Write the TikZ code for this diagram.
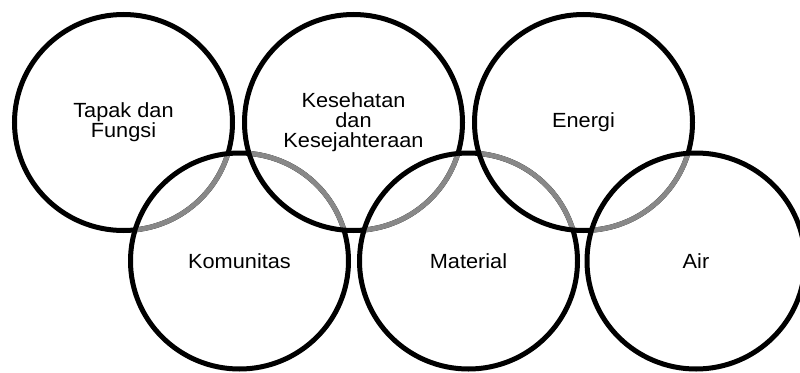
\documentclass[tikz,border=0pt]{standalone}
\usepackage{fontspec}
\setmainfont[FakeStretch=1.06]{Liberation Sans}
\definecolor{ringgray}{RGB}{136,136,136}
\begin{document}
\begin{tikzpicture}[x=1pt,y=-1pt,
  ring/.style={line width=5pt, draw=black},
  lensarc/.style={line width=5pt, draw=ringgray},
  ringtext/.style={align=center, font=\fontsize{20.5}{20}\selectfont, inner sep=0pt}]
\useasboundingbox (0,0) rectangle (800,372);

% labels, one at the centre of each ring
\node[ringtext] (tl)  at (123.5,122.5) {Tapak dan\\Fungsi};
\node[ringtext] (kes) at (353.5,122.5) {Kesehatan\\dan\\Kesejahteraan};
\node[ringtext] (ene) at (583.5,122.5) {Energi};
\node[ringtext] (kom) at (239.5,261) {Komunitas};
\node[ringtext] (mat) at (468.5,261) {Material};
\node[ringtext] (air) at (696,261) {Air};

% the six rings
\foreach \n in {tl,kes,ene,kom,mat,air}
  \draw[ring] (\n.center) ellipse [x radius=109pt, y radius=108pt];

% grey arcs where one ring passes behind the next
\foreach \a/\b in {tl/kom, kom/kes, kes/mat, mat/ene, ene/air} {
  \begin{scope}
    \clip (\b.center) ellipse [x radius=106.5pt, y radius=105.5pt];
    \draw[lensarc] (\a.center) ellipse [x radius=109pt, y radius=108pt];
  \end{scope}
}
\end{tikzpicture}
\end{document}
